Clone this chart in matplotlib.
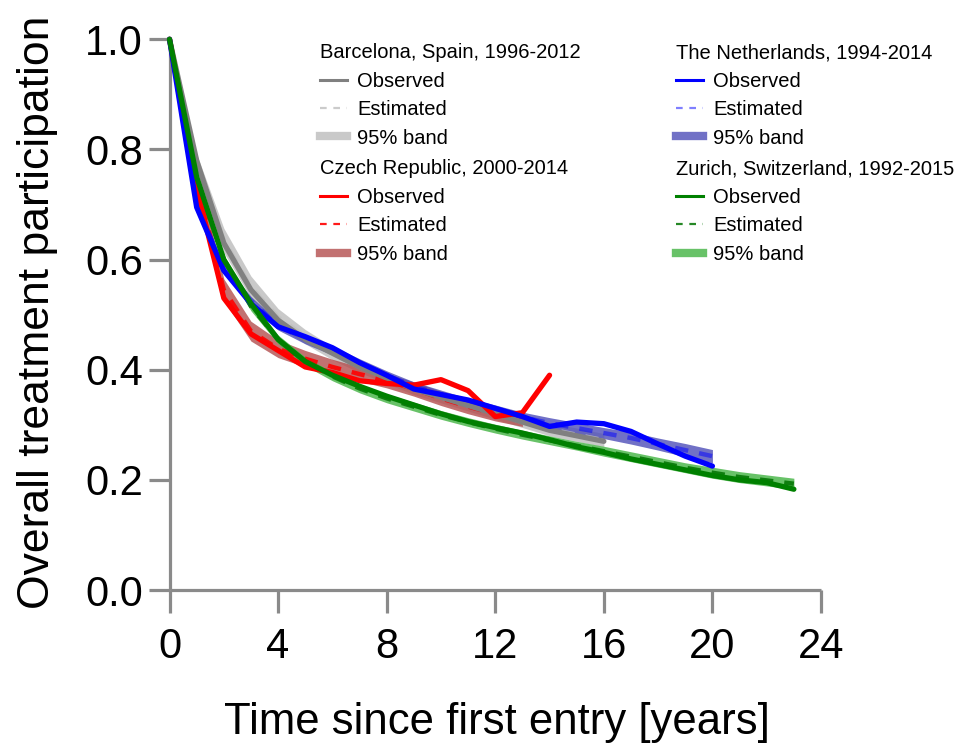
import matplotlib
matplotlib.use("Agg")
import matplotlib.pyplot as plt
from matplotlib.lines import Line2D
from matplotlib.legend import Legend

plt.rcParams['font.family'] = ['Liberation Sans', 'DejaVu Sans']

# Barcelona, Spain
bcn_t = [0, 1, 2, 3, 4, 5, 6, 7, 8, 9, 10, 11, 12, 13, 14, 15, 16]
bcn_obs = [1.0, 0.78, 0.63, 0.545, 0.49, 0.455, 0.43, 0.405, 0.385, 0.365, 0.35,
           0.335, 0.32, 0.305, 0.29, 0.28, 0.27]
bcn_est = [1.0, 0.77, 0.635, 0.55, 0.495, 0.46, 0.43, 0.405, 0.385, 0.365, 0.35,
           0.335, 0.32, 0.305, 0.292, 0.282, 0.272]
bcn_hw = [0, 0.022, 0.022, 0.02, 0.016, 0.013, 0.012, 0.01, 0.01, 0.01, 0.01,
          0.01, 0.01, 0.01, 0.012, 0.012, 0.012]

# Czech Republic
cz_t = [0, 1, 2, 3, 4, 5, 6, 7, 8, 9, 10, 11, 12, 13, 14]
cz_obs = [1.0, 0.73, 0.53, 0.465, 0.435, 0.405, 0.395, 0.38, 0.375, 0.372, 0.382,
          0.362, 0.315, 0.322, 0.39]
cz_est_t = [0, 1, 2, 3, 4, 5, 6, 7, 8, 9, 10, 11, 12, 13]
cz_est = [1.0, 0.74, 0.545, 0.47, 0.438, 0.42, 0.405, 0.392, 0.38, 0.365, 0.348,
          0.333, 0.32, 0.31]
cz_hw = [0, 0.02, 0.02, 0.018, 0.016, 0.015, 0.014, 0.013, 0.013, 0.013, 0.013,
         0.013, 0.013, 0.013]

# The Netherlands
nl_t = list(range(21))
nl_obs = [1.0, 0.695, 0.58, 0.52, 0.478, 0.46, 0.44, 0.413, 0.39, 0.365, 0.355,
          0.345, 0.33, 0.315, 0.297, 0.305, 0.302, 0.288, 0.265, 0.243, 0.225]
nl_est = [1.0, 0.70, 0.585, 0.525, 0.48, 0.455, 0.435, 0.412, 0.39, 0.37, 0.355,
          0.34, 0.327, 0.314, 0.303, 0.294, 0.285, 0.276, 0.265, 0.254, 0.243]
nl_hw = [0, 0.008, 0.008, 0.008, 0.008, 0.008, 0.008, 0.008, 0.008, 0.008, 0.008,
         0.008, 0.009, 0.009, 0.01, 0.01, 0.01, 0.011, 0.011, 0.012, 0.012]

# Zurich, Switzerland
zh_t = list(range(24))
zh_obs = [1.0, 0.75, 0.60, 0.52, 0.455, 0.415, 0.39, 0.37, 0.352, 0.336, 0.32,
          0.306, 0.295, 0.285, 0.273, 0.26, 0.25, 0.238, 0.228, 0.218, 0.208,
          0.2, 0.195, 0.183]
zh_est = [1.0, 0.75, 0.60, 0.515, 0.455, 0.415, 0.388, 0.366, 0.348, 0.333, 0.318,
          0.305, 0.293, 0.282, 0.272, 0.262, 0.252, 0.242, 0.232, 0.222, 0.213,
          0.205, 0.199, 0.193]
zh_hw = [0, 0.008, 0.008, 0.008, 0.008, 0.008, 0.008, 0.008, 0.008, 0.008, 0.008,
         0.008, 0.008, 0.008, 0.008, 0.008, 0.009, 0.009, 0.009, 0.009, 0.01,
         0.01, 0.01, 0.01]

x_ticks = [0, 4, 8, 12, 16, 20, 24]
y_ticks = [0.0, 0.2, 0.4, 0.6, 0.8, 1.0]

series = [
    ("Barcelona, Spain, 1996-2012", bcn_t, bcn_obs, bcn_t, bcn_est, bcn_hw,
     "#808080", (0.75, 0.75, 0.75, 0.8), (0.72, 0.72, 0.72, 0.75)),
    ("Czech Republic, 2000-2014", cz_t, cz_obs, cz_est_t, cz_est, cz_hw,
     "#ff0000", (1.0, 0.0, 0.0, 0.9), (0.70, 0.30, 0.30, 0.8)),
    ("The Netherlands, 1994-2014", nl_t, nl_obs, nl_t, nl_est, nl_hw,
     "#0000ff", (0.0, 0.0, 1.0, 0.5), (0.30, 0.30, 0.72, 0.8)),
    ("Zurich, Switzerland, 1992-2015", zh_t, zh_obs, zh_t, zh_est, zh_hw,
     "#008000", (0.0, 0.45, 0.0, 0.85), (0.30, 0.72, 0.30, 0.85)),
]

fig = plt.figure(figsize=(9.55, 7.48), dpi=100)
ax = fig.add_axes([0.1775, 0.2112, 0.6822, 0.7363])

spine_col = "#8a8a8a"
for name, t, obs, te, est, hw, c_obs, c_est, c_band in series:
    lo = [e - h for e, h in zip(est, hw)]
    hi = [e + h for e, h in zip(est, hw)]
    ax.fill_between(te, lo, hi, color=c_band, lw=0, zorder=2)
    ax.plot(te, est, color=c_est, lw=3.2, ls=(0, (3, 2.5)), zorder=3,
            solid_capstyle='butt')
    ax.plot(t, obs, color=c_obs, lw=3.8, zorder=4, clip_on=False,
            solid_capstyle='round', solid_joinstyle='round')

ax.set_xlim(0, 24)
ax.set_ylim(0, 1.0)
ax.set_xticks(x_ticks)
ax.set_yticks(y_ticks)
ax.set_yticklabels([f"{v:.1f}" for v in y_ticks])

for s in ["top", "right"]:
    ax.spines[s].set_visible(False)
for s in ["left", "bottom"]:
    ax.spines[s].set_color(spine_col)
    ax.spines[s].set_linewidth(2.3)
    ax.spines[s].set_capstyle('butt')
ax.tick_params(axis='x', length=16.5, width=2.3, color=spine_col, pad=10,
               labelsize=30)
ax.tick_params(axis='y', length=15, width=2.3, color=spine_col, pad=4,
               labelsize=30)

ax.set_xlabel("Time since first entry [years]", fontsize=31.5, va='center')
ax.xaxis.set_label_coords(0.503, -0.24)
ax.set_ylabel("Overall treatment participation", fontsize=32, va='center')
ax.yaxis.set_label_coords(-0.202, 0.505)

# legends, one block per site
legend_pos = [(0.231, 0.993), (0.231, 0.782), (0.777, 0.993), (0.777, 0.782)]
for (name, t, obs, te, est, hw, c_obs, c_est, c_band), pos in zip(series, legend_pos):
    handles = [
        Line2D([], [], color=c_obs, lw=2.2),
        Line2D([], [], color=c_est, lw=1.6, ls=(0, (3, 3))),
        Line2D([], [], color=c_band, lw=6),
    ]
    leg = Legend(ax, handles, ["Observed", "Estimated", "95% band"], title=name,
                 loc='upper left', bbox_to_anchor=pos, frameon=False,
                 fontsize=14.5, title_fontsize=14.5, alignment='left',
                 handlelength=1.35, handletextpad=0.5, labelspacing=0.47,
                 borderpad=0, borderaxespad=0)
    ax.add_artist(leg)

fig.savefig("out.png", dpi=100)
